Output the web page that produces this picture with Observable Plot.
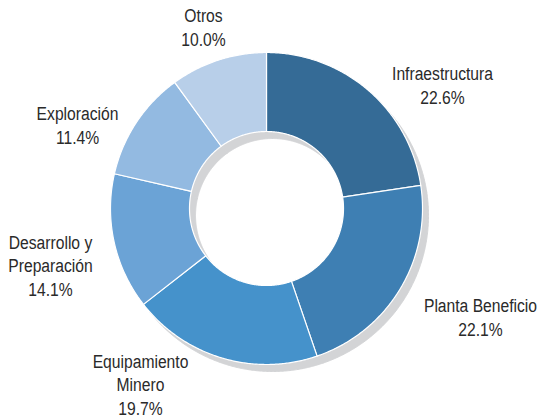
<!DOCTYPE html>
<html><head><meta charset="utf-8">
<script src="https://cdn.jsdelivr.net/npm/d3@7"></script>
<script src="https://cdn.jsdelivr.net/npm/@observablehq/plot@0.6"></script>
<style>html,body{margin:0;padding:0;background:#fff} svg{display:block}</style>
</head><body><div id="chart"></div>
<script>
// --- data ---
const categories = ["Infraestructura", "Planta Beneficio", "Equipamiento Minero", "Desarrollo y Preparación", "Exploración", "Otros"];
const shares = [22.6, 22.1, 19.7, 14.1, 11.4, 10.0];
const labelNames = ["Infraestructura", "Planta Beneficio", "Equipamiento\nMinero", "Desarrollo y\nPreparación", "Exploración", "Otros"];
const colors = ["#356b96", "#3e7fb3", "#4592cb", "#6ba3d6", "#93bae1", "#b8cfe9"];

// --- layout (pixels) ---
const W = 537, H = 419;
const cx = 266, cy = 208, R = 156, r0 = 77;
const shadowDx = 6, shadowDy = 7;
// label anchor: x center, baseline of last line
const labelPos = [[442, 103], [480, 335], [140, 414], [50, 295], [77, 143], [203, 45]];
const narrow = 0.87;

const total = d3.sum(shares);
const pts = [];
let acc = 0;
shares.forEach((v, i) => {
  const a0 = acc / total * 2 * Math.PI;
  acc += v;
  const a1 = acc / total * 2 * Math.PI;
  const n = Math.max(8, Math.ceil((a1 - a0) / (Math.PI / 360)));
  for (let k = 0; k <= n; k++) {
    const a = a0 + (a1 - a0) * k / n;
    pts.push({cat: categories[i], x: cx + R * Math.sin(a), y: cy - R * Math.cos(a)});
  }
  for (let k = n; k >= 0; k--) {
    const a = a0 + (a1 - a0) * k / n;
    pts.push({cat: categories[i], x: cx + r0 * Math.sin(a), y: cy - r0 * Math.cos(a)});
  }
});

const labelData = categories.map((c, i) => ({
  cat: c,
  text: labelNames[i] + "\n" + shares[i].toFixed(1) + "%",
  x: labelPos[i][0], y: labelPos[i][1]
}));

const chart = Plot.plot({
  width: W, height: H,
  margin: 0,
  x: {domain: [0, W], range: [0, W], axis: null},
  y: {domain: [0, H], range: [0, H], axis: null},
  color: {domain: categories, range: colors},
  style: {background: "#fff", overflow: "visible"},
  marks: [
    Plot.line(pts, {x: "x", y: "y", z: "cat", curve: "linear-closed", fill: "#d3d4d6", stroke: "#d3d4d6", strokeWidth: 1, dx: shadowDx, dy: shadowDy}),
    Plot.line(pts, {x: "x", y: "y", z: "cat", curve: "linear-closed", fill: "cat", stroke: "#fff", strokeWidth: 1.2}),
    Plot.text(labelData, {x: "x", y: "y", text: "text", textAnchor: "middle", lineAnchor: "bottom", lineHeight: 1.28,
      fontSize: 18, fill: "#2a2a2a", fontFamily: "'Liberation Sans', Arial, sans-serif", className: "lbl"})
  ]
});
// condensed look (Arial Narrow-like) via horizontal scaling of each label
chart.querySelectorAll("g.lbl text, .lbl text").forEach(t => {
  const tr = t.getAttribute("transform") || "";
  t.setAttribute("transform", tr + ` scale(${narrow},1)`);
});
document.getElementById("chart").appendChild(chart);
</script>
</body></html>
